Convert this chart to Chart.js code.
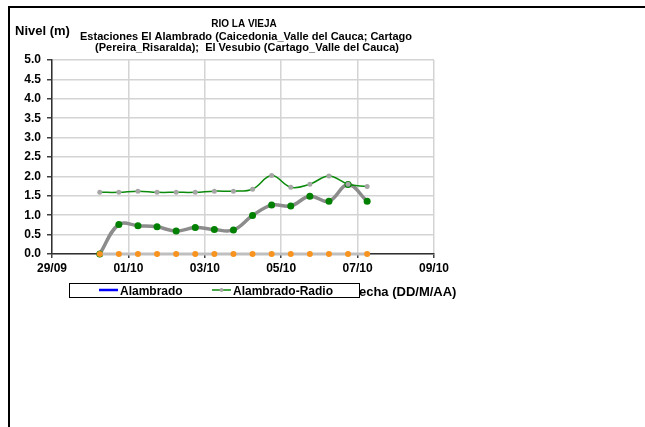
<!DOCTYPE html>
<html lang="es">
  <head>
    <meta charset="UTF-8" />
    <title>Rio La Vieja - Nivel</title>
    <script src="https://cdn.jsdelivr.net/npm/chart.js"></script>
    <style>
      body {
        margin: 0;
        background: #ffffff;
      }
      #nivel {
        display: block;
      }
    </style>
  </head>
  <body>
    <canvas id="nivel" width="645" height="427"></canvas>

    <script>
      // dias contados desde 29/09 00:00 (cada 12 horas)
      const fechas = [1.25, 1.75, 2.25, 2.75, 3.25, 3.75, 4.25, 4.75, 5.25, 5.75, 6.25, 6.75, 7.25, 7.75, 8.25];
      const tickFechas = ['29/09', '01/10', '03/10', '05/10', '07/10', '09/10'];

      const alambrado = [];
      const alambradoRadio = [1.59, 1.59, 1.62, 1.59, 1.59, 1.59, 1.62, 1.62, 1.67, 2.02, 1.72, 1.80, 2.01, 1.80, 1.74];
      const cartago = [0, 0.76, 0.73, 0.70, 0.59, 0.68, 0.63, 0.62, 0.99, 1.26, 1.24, 1.49, 1.36, 1.79, 1.36];
      const vesubio = [0, 0, 0, 0, 0, 0, 0, 0, 0, 0, 0, 0, 0, 0, 0];

      const titulo = [
        'RIO LA VIEJA',
        'Estaciones El Alambrado (Caicedonia_Valle del Cauca; Cartago',
        '(Pereira_Risaralda);  El Vesubio (Cartago_Valle del Cauca)',
      ];

      const pares = (ys) => ys.map((y, i) => ({ x: fechas[i], y: y }));
      const fontBold = (size) => 'bold ' + size + 'px "Liberation Sans", Arial, sans-serif';

      // textos, leyenda y marco
      const decoracion = {
        id: 'decoracion',
        afterDraw(chart) {
          const ctx = chart.ctx;
          ctx.save();

          // marco exterior
          ctx.fillStyle = '#000000';
          ctx.fillRect(8, 6, 637, 2);
          ctx.fillRect(8, 6, 2, 421);

          ctx.fillStyle = '#000000';
          ctx.textBaseline = 'middle';

          ctx.font = fontBold(13);
          ctx.textAlign = 'left';
          ctx.fillText('Nivel (m)', 15, 31);

          ctx.textAlign = 'center';
          ctx.font = fontBold(10);
          ctx.fillText(titulo[0], 244, 24.5);
          ctx.font = fontBold(11);
          ctx.fillText(titulo[1], 246, 36.5);
          ctx.fillText(titulo[2], 247, 47.5);

          // titulo eje x (queda parcialmente tapado por la leyenda)
          ctx.font = fontBold(13);
          ctx.textAlign = 'left';
          ctx.fillText('Fecha (DD/M/AA)', 351, 292.5);

          // leyenda
          ctx.fillStyle = '#ffffff';
          ctx.fillRect(69.5, 283.5, 290, 14);
          ctx.strokeStyle = '#000000';
          ctx.lineWidth = 1;
          ctx.strokeRect(69.5, 283.5, 290, 14);

          const entradas = chart.data.datasets.filter((d) => d.enLeyenda);
          const xs = [99, 212];
          entradas.forEach((d, i) => {
            const x0 = xs[i];
            ctx.strokeStyle = d.borderColor;
            ctx.lineWidth = d.leyendaAncho;
            ctx.beginPath();
            ctx.moveTo(x0, 290);
            ctx.lineTo(x0 + 19, 290);
            ctx.stroke();
            if (d.pointRadius > 0) {
              ctx.fillStyle = d.pointBackgroundColor;
              ctx.beginPath();
              ctx.arc(x0 + 9.5, 290, 2, 0, Math.PI * 2);
              ctx.fill();
            }
            ctx.fillStyle = '#000000';
            ctx.textAlign = 'left';
            ctx.font = fontBold(12);
            ctx.fillText(d.label, x0 + 21, 292);
          });

          ctx.restore();
        },
      };

      new Chart(document.getElementById('nivel'), {
        type: 'line',
        data: {
          datasets: [
            {
              label: 'El Vesubio',
              data: pares(vesubio),
              borderColor: '#bfbfbf',
              borderWidth: 3,
              pointRadius: 3,
              pointBackgroundColor: '#f7931e',
              pointBorderColor: '#f7931e',
              pointBorderWidth: 0,
              tension: 0,
              clip: false,
              order: 0,
            },
            {
              label: 'Alambrado',
              data: pares(alambrado),
              borderColor: '#0000ff',
              borderWidth: 2,
              pointRadius: 0,
              enLeyenda: true,
              leyendaAncho: 2.5,
              order: 1,
            },
            {
              label: 'Alambrado-Radio',
              data: pares(alambradoRadio),
              borderColor: '#0b8a0b',
              borderWidth: 1.5,
              pointRadius: 2.5,
              pointBackgroundColor: '#a6a6a6',
              pointBorderColor: '#a6a6a6',
              pointBorderWidth: 0,
              tension: 0.4,
              clip: false,
              enLeyenda: true,
              leyendaAncho: 1.5,
              order: 2,
            },
            {
              label: 'Cartago',
              data: pares(cartago),
              borderColor: '#8c8c8c',
              borderWidth: 3.5,
              pointRadius: 3.5,
              pointBackgroundColor: '#008000',
              pointBorderColor: '#008000',
              pointBorderWidth: 0,
              tension: 0.4,
              clip: false,
              order: 3,
            },
          ],
        },
        options: {
          responsive: false,
          animation: false,
          layout: {
            padding: { left: 0, right: 211, top: 60, bottom: 0 },
          },
          plugins: {
            legend: { display: false },
            title: { display: false },
            tooltip: { enabled: false },
          },
          scales: {
            x: {
              type: 'linear',
              min: 0,
              max: 10,
              afterFit(scale) {
                scale.height = 173;
              },
              ticks: {
                stepSize: 2,
                color: '#000000',
                padding: 3,
                maxRotation: 0,
                font: { family: '"Liberation Sans", Arial, sans-serif', size: 12, weight: 'bold' },
                callback: (v) => tickFechas[v / 2],
              },
              grid: {
                color: '#d4d4d4',
                lineWidth: 1.5,
                tickColor: '#404040',
                tickLength: 4,
              },
              border: { color: '#303030', width: 1.5 },
            },
            y: {
              min: 0,
              max: 5,
              afterFit(scale) {
                scale.width = 52;
              },
              ticks: {
                stepSize: 0.5,
                color: '#000000',
                padding: 6,
                font: { family: '"Liberation Sans", Arial, sans-serif', size: 12, weight: 'bold' },
                callback: (v) => v.toFixed(1),
              },
              grid: {
                color: '#d4d4d4',
                lineWidth: 1.5,
                tickColor: '#404040',
                tickLength: 5,
              },
              border: { color: '#303030', width: 1.5 },
            },
          },
        },
        plugins: [decoracion],
      });
    </script>
  </body>
</html>
